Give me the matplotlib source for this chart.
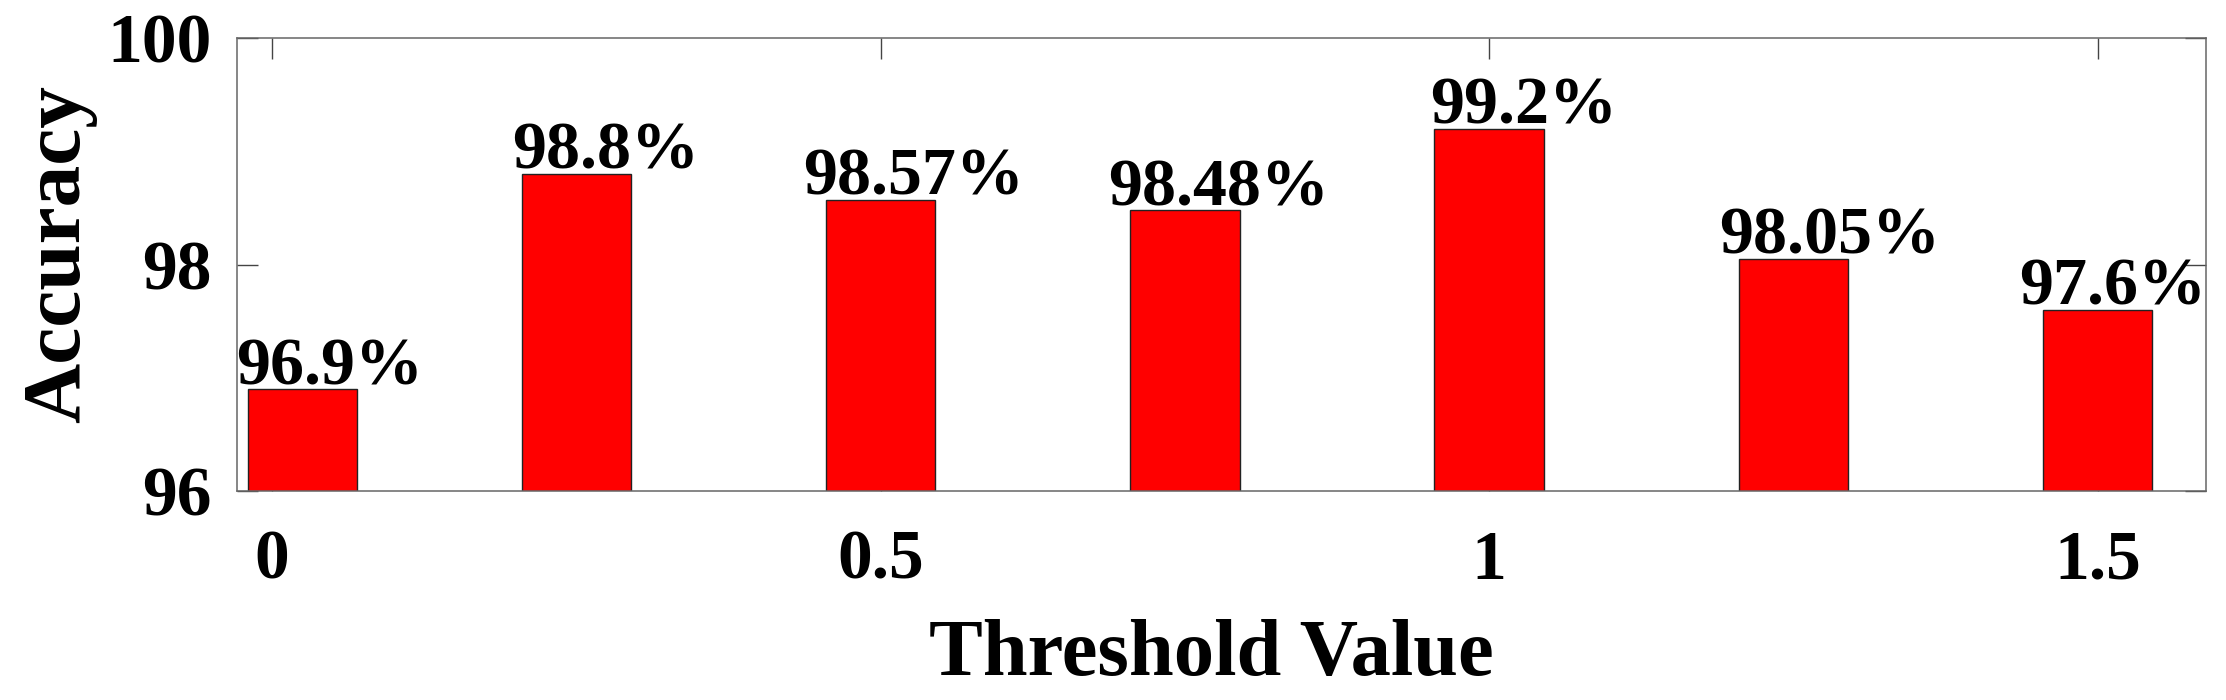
import matplotlib
matplotlib.use('Agg')
import matplotlib.pyplot as plt

# Accuracy per threshold value
thresholds = [0.025, 0.25, 0.5, 0.75, 1.0, 1.25, 1.5]
accuracy   = [96.9, 98.8, 98.57, 98.48, 99.2, 98.05, 97.6]
bar_labels = ['96.9%', '98.8%', '98.57%', '98.48%', '99.2%', '98.05%', '97.6%']
xticks     = [0, 0.5, 1, 1.5]
xticklabels = ['0', '0.5', '1', '1.5']
yticks     = [96, 98, 100]

# label shifts in pixels (x)
label_dx = [27, 29, 33, 34, 34, 36, 15]
label_dy = 5

plt.rcParams['font.family'] = ['Liberation Serif', 'DejaVu Serif']
plt.rcParams['font.weight'] = 'bold'

fig = plt.figure( figsize=( 22.26, 7.0 ), dpi=100 )
ax = fig.add_axes( [ 237/2226, 1 - 491/700, ( 2206 - 237 )/2226, ( 491 - 38 )/700 ] )

ax.bar( thresholds, accuracy, width=0.09, color='#ff0000', edgecolor='#222222', linewidth=1.0, zorder=2 )

for xv, yv, lab, dx in zip( thresholds, accuracy, bar_labels, label_dx ):
    ax.annotate( lab, ( xv, yv ), xytext=( dx, label_dy ), textcoords='offset pixels',
                 ha='center', va='baseline', fontsize=49, fontweight='bold', zorder=3 )

ax.set_xlim( -0.0288, 1.589 )
ax.set_ylim( 96, 100 )
ax.set_xticks( xticks )
ax.set_xticklabels( xticklabels )
ax.set_yticks( yticks )

ax.tick_params( axis='both', direction='in', length=15, width=1.0, color='#444444',
                top=True, right=True, labelsize=50 )
ax.tick_params( axis='x', pad=28 )
ax.tick_params( axis='y', pad=18 )
for lbl in ax.get_xticklabels() + ax.get_yticklabels():
    lbl.set_fontweight( 'bold' )

for sp in ax.spines.values():
    sp.set_color( '#666666' )
    sp.set_linewidth( 1.1 )

fig.text( 1211/2226, 1 - 675/700, 'Threshold Value', ha='center', va='baseline',
          fontsize=58, fontweight='bold' )
fig.text( 60/2226, 1 - 254/700, 'Accuracy', ha='center', va='center', rotation=90,
          fontsize=60, fontweight='bold' )

fig.savefig( 'out.png', dpi=100 )
plt.close()
